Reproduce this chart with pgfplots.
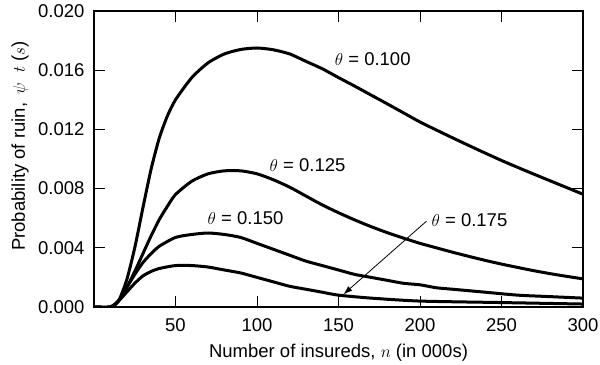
\documentclass[border=0pt]{standalone}
\usepackage{pgfplots}
\pgfplotsset{compat=1.18}
\usepackage{pgfplotstable}
\usepackage{fontspec}
\setmainfont{Liberation Sans}
\usetikzlibrary{arrows.meta}

\pgfplotstableread{
n p
0 0
10 0
15 0.0004
20 0.0018
25 0.0040
30 0.0067
35 0.0093
40 0.0114
45 0.0129
50 0.0140
60 0.0155
70 0.0165
80 0.0171
90 0.0174
100 0.0175
110 0.01738
120 0.0171
130 0.0166
140 0.0161
150 0.0155
160 0.01492
170 0.01432
180 0.01372
190 0.01311
200 0.0125
210 0.01196
220 0.01143
230 0.01091
240 0.0104
250 0.0099
260 0.00943
270 0.00897
280 0.00852
290 0.00807
300 0.00762
}\thetaA

\pgfplotstableread{
n p
0 0
10 0
15 0.0004
20 0.0013
25 0.0024
30 0.0036
35 0.0048
40 0.0059
45 0.0068
50 0.0076
60 0.0085
70 0.0090
80 0.0092
90 0.0092
100 0.0090
110 0.0086
120 0.0081
130 0.0075
140 0.0069
150 0.00637
160 0.00588
170 0.00543
180 0.00502
190 0.00465
200 0.0043
210 0.0040
220 0.0037
230 0.00342
240 0.00315
250 0.0029
260 0.00267
270 0.00245
280 0.00225
290 0.00207
300 0.0019
}\thetaB

\pgfplotstableread{
n p
0 0
10 0
15 0.0004
20 0.0013
25 0.0022
30 0.0030
35 0.0036
40 0.0041
50 0.0047
60 0.0049
70 0.0050
80 0.0049
90 0.0047
100 0.0043
110 0.0039
120 0.0035
130 0.0031
140 0.0028
150 0.0025
160 0.0022
170 0.0020
180 0.0018
190 0.0016
200 0.0015
210 0.0013
220 0.0012
240 0.0010
260 0.0008
280 0.0007
300 0.0006
}\thetaC

\pgfplotstableread{
n p
0 0
10 0
15 0.0004
20 0.0010
25 0.0016
30 0.0021
35 0.0024
40 0.0026
50 0.0028
60 0.0028
70 0.0027
80 0.0025
90 0.0023
100 0.0020
110 0.0017
120 0.0014
130 0.0012
140 0.0010
150 0.0008
170 0.0006
200 0.0004
250 0.0003
300 0.0002
}\thetaD

\begin{document}
\begin{tikzpicture}
\begin{axis}[
  name=ax,
  scale only axis,
  width=489bp, height=296bp,
  xmin=0, xmax=300, ymin=0, ymax=0.020,
  xtick={50,100,150,200,250,300},
  ytick={0,0.004,0.008,0.012,0.016,0.020},
  scaled y ticks=false,
  yticklabel style={/pgf/number format/fixed, /pgf/number format/fixed zerofill, /pgf/number format/precision=3},
  /pgf/number format/assume math mode=true,
  font=\fontsize{18.5bp}{22bp}\selectfont,
  tick align=inside,
  major tick length=11bp,
  axis line style={line width=2.2bp},
  tick style={line width=0.7bp, black},
  x tick label style={anchor=base, yshift=-24bp},
  y tick label style={anchor=east, xshift=-6bp},
  xlabel={Number of insureds, $n$ (in 000s)},
  ylabel={Probability of ruin, \,$\psi$\; $t$ ($s$)},
  xlabel style={at={(rel axis cs:0.5,0)}, anchor=base, yshift=-50bp},
  ylabel style={at={(rel axis cs:-0.1513,0.544)}, anchor=center},
  clip=true,
]
\addplot[black, line width=3bp, smooth, tension=0.4] table[x=n,y=p] {\thetaA};
\addplot[black, line width=3bp, smooth, tension=0.4] table[x=n,y=p] {\thetaB};
\addplot[black, line width=3bp, smooth, tension=0.4] table[x=n,y=p] {\thetaC};
\addplot[black, line width=3bp, smooth, tension=0.4] table[x=n,y=p] {\thetaD};

\node at (axis cs:171,0.01676) {$\theta$ = 0.100};
\node at (axis cs:131,0.0096) {$\theta$ = 0.125};
\node at (axis cs:93,0.0060) {$\theta$ = 0.150};
\node[anchor=west, inner sep=0pt] at (axis cs:207,0.00588) {$\theta$ = 0.175};
\draw[-{Latex[length=9bp,width=6bp]}, line width=0.8bp] (axis cs:204,0.0058) -- (axis cs:153,0.00085);
\end{axis}
\pgfresetboundingbox
\path ([shift={(-94bp,-58bp)}]ax.south west) rectangle ([shift={(17bp,11bp)}]ax.north east);
\end{tikzpicture}
\end{document}
